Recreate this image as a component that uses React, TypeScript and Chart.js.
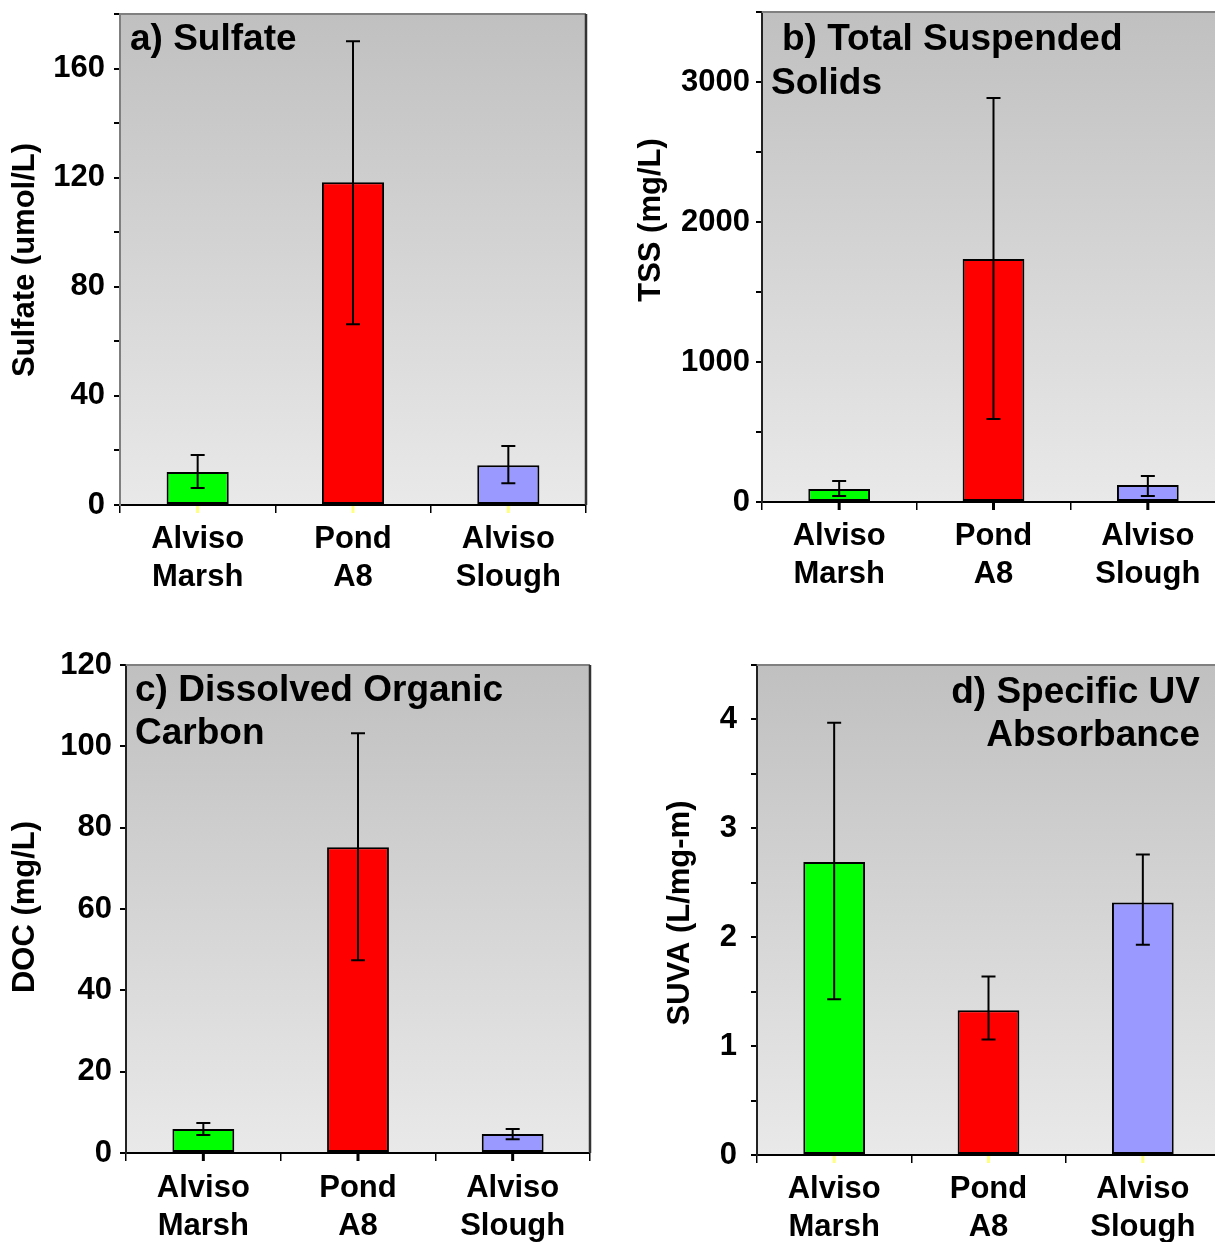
import React, { useEffect, useRef } from 'react';
import { Chart, registerables } from 'chart.js';

Chart.register(...registerables);

const FONT = '"Liberation Sans", Arial, Helvetica, sans-serif';

// ---------- data ----------
const categories = [['Alviso', 'Marsh'], ['Pond', 'A8'], ['Alviso', 'Slough']];
const barColors = ['#00ff00', '#ff0000', '#9999ff'];

// a) Sulfate (umol/L)
const sulfateMean = [12.1, 118.3, 14.6];
const sulfateLow = [6.2, 66.3, 8.0];
const sulfateHigh = [18.3, 170.0, 21.6];
const sulfateTicks = [0, 40, 80, 120, 160];

// b) Total Suspended Solids (mg/L)
const tssMean = [93, 1736, 121];
const tssLow = [43, 593, 43];
const tssHigh = [150, 2886, 186];
const tssTicks = [0, 1000, 2000, 3000];

// c) Dissolved Organic Carbon (mg/L)
const docMean = [5.9, 75.2, 4.7];
const docLow = [4.4, 47.4, 3.4];
const docHigh = [7.4, 103.2, 5.9];
const docTicks = [0, 20, 40, 60, 80, 100, 120];

// d) Specific UV Absorbance (L/mg-m)
const suvaMean = [2.69, 1.33, 2.32];
const suvaLow = [1.43, 1.06, 1.93];
const suvaHigh = [3.97, 1.64, 2.76];
const suvaTicks = [0, 1, 2, 3, 4];

// ---------- panel layout ----------
type PanelCfg = {
  left: number; top: number; width: number; height: number;
  area: { left: number; top: number; right: number; bottom: number };
  values: number[]; low: number[]; high: number[];
  yMax: number; yStep: number; tickLabels: number[];
  yTitle: string; yTitlePos: { x: number; y: number };
  titleLines: { text: string; x: number; y: number; align: CanvasTextAlign }[];
  yTickPad: number; xTickPad: number;
  yBorderColor: string; centerTickColor: string;
};

const panels: PanelCfg[] = [
  {
    left: 0, top: 0, width: 600, height: 620,
    area: { left: 120, top: 14, right: 586, bottom: 505 },
    values: sulfateMean, low: sulfateLow, high: sulfateHigh,
    yMax: 180, yStep: 20, tickLabels: sulfateTicks,
    yTitle: 'Sulfate (umol/L)', yTitlePos: { x: 25, y: 260 },
    titleLines: [{ text: 'a) Sulfate', x: 130, y: 50, align: 'left' }],
    yTickPad: 9, xTickPad: 7, yBorderColor: '#7f7f7f', centerTickColor: '#ffff80',
  },
  {
    left: 620, top: 0, width: 620, height: 620,
    area: { left: 142, top: 12, right: 605, bottom: 502 },
    values: tssMean, low: tssLow, high: tssHigh,
    yMax: 3500, yStep: 500, tickLabels: tssTicks,
    yTitle: 'TSS (mg/L)', yTitlePos: { x: 31, y: 220 },
    titleLines: [
      { text: 'b) Total Suspended', x: 162, y: 50, align: 'left' },
      { text: 'Solids', x: 151, y: 94, align: 'left' },
    ],
    yTickPad: 6, xTickPad: 7, yBorderColor: '#222', centerTickColor: '#000',
  },
  {
    left: 0, top: 640, width: 600, height: 602,
    area: { left: 126, top: 25, right: 590, bottom: 513 },
    values: docMean, low: docLow, high: docHigh,
    yMax: 120, yStep: 20, tickLabels: docTicks,
    yTitle: 'DOC (mg/L)', yTitlePos: { x: 25, y: 267 },
    titleLines: [
      { text: 'c) Dissolved Organic', x: 135, y: 61, align: 'left' },
      { text: 'Carbon', x: 135, y: 104, align: 'left' },
    ],
    yTickPad: 8, xTickPad: 8, yBorderColor: '#222', centerTickColor: '#000',
  },
  {
    left: 620, top: 640, width: 620, height: 602,
    area: { left: 137, top: 25, right: 600, bottom: 515 },
    values: suvaMean, low: suvaLow, high: suvaHigh,
    yMax: 4.5, yStep: 0.5, tickLabels: suvaTicks,
    yTitle: 'SUVA (L/mg-m)', yTitlePos: { x: 60, y: 273 },
    titleLines: [
      { text: 'd) Specific UV', x: 580, y: 63, align: 'right' },
      { text: 'Absorbance', x: 580, y: 106, align: 'right' },
    ],
    yTickPad: 14, xTickPad: 7, yBorderColor: '#222', centerTickColor: '#ffff80',
  },
];

// ---------- plugins ----------
const decoPlugin = {
  id: 'deco',
  beforeDraw(chart: any) {
    const { ctx, chartArea: a } = chart;
    ctx.save();
    const g = ctx.createLinearGradient(0, a.top, 0, a.bottom);
    g.addColorStop(0, '#c0c0c0');
    g.addColorStop(1, '#e9e9e9');
    ctx.fillStyle = g;
    ctx.fillRect(a.left, a.top, a.right - a.left, a.bottom - a.top);
    ctx.restore();
  },
  afterDraw(chart: any, _args: any, o: any) {
    const { ctx, chartArea: a } = chart;
    const meta = chart.getDatasetMeta(0);
    const y = chart.scales.y;
    ctx.save();
    // frame: top and right
    ctx.lineWidth = 2;
    ctx.strokeStyle = '#808080';
    ctx.beginPath();
    ctx.moveTo(a.left, a.top);
    ctx.lineTo(a.right, a.top);
    ctx.stroke();
    ctx.strokeStyle = '#333';
    ctx.lineWidth = 2.5;
    ctx.beginPath();
    ctx.moveTo(a.right, a.top);
    ctx.lineTo(a.right, a.bottom);
    ctx.stroke();
    // center tick marks below the axis
    ctx.strokeStyle = o.centerTickColor;
    ctx.lineWidth = 3;
    meta.data.forEach((bar: any) => {
      ctx.beginPath();
      ctx.moveTo(bar.x, a.bottom + 1);
      ctx.lineTo(bar.x, a.bottom + 8);
      ctx.stroke();
    });
    // error bars
    ctx.strokeStyle = '#000';
    ctx.lineWidth = 2;
    const cap = 7;
    meta.data.forEach((bar: any, i: number) => {
      const yl = y.getPixelForValue(o.low[i]);
      const yh = y.getPixelForValue(o.high[i]);
      ctx.beginPath();
      ctx.moveTo(bar.x, yl);
      ctx.lineTo(bar.x, yh);
      ctx.moveTo(bar.x - cap, yl);
      ctx.lineTo(bar.x + cap, yl);
      ctx.moveTo(bar.x - cap, yh);
      ctx.lineTo(bar.x + cap, yh);
      ctx.stroke();
    });
    // panel titles
    ctx.fillStyle = '#000';
    ctx.font = `bold 37px ${FONT}`;
    ctx.textBaseline = 'alphabetic';
    o.titleLines.forEach((t: any) => {
      ctx.textAlign = t.align;
      ctx.fillText(t.text, t.x, t.y);
    });
    // y axis title
    ctx.font = `bold 31px ${FONT}`;
    ctx.textAlign = 'center';
    ctx.textBaseline = 'middle';
    ctx.translate(o.yTitlePos.x, o.yTitlePos.y);
    ctx.rotate(-Math.PI / 2);
    ctx.fillText(o.yTitle, 0, 0);
    ctx.restore();
  },
};

function zeroPad(s: any) {
  s.paddingTop = 0;
  s.paddingBottom = 0;
  s.paddingLeft = 0;
  s.paddingRight = 0;
}

function buildConfig(p: PanelCfg): any {
  return {
    type: 'bar',
    data: {
      labels: categories,
      datasets: [
        {
          data: p.values,
          backgroundColor: barColors,
          borderColor: '#000',
          borderWidth: 2,
          borderSkipped: false,
          categoryPercentage: 1,
          barPercentage: 0.4,
        },
      ],
    },
    plugins: [decoPlugin],
    options: {
      responsive: false,
      maintainAspectRatio: false,
      animation: false,
      devicePixelRatio: 1,
      layout: { padding: { left: 0, top: p.area.top, right: p.width - p.area.right, bottom: 0 } },
      plugins: {
        legend: { display: false },
        tooltip: { enabled: false },
        title: { display: false },
        deco: {
          low: p.low, high: p.high, titleLines: p.titleLines,
          yTitle: p.yTitle, yTitlePos: p.yTitlePos, centerTickColor: p.centerTickColor,
        },
      },
      scales: {
        x: {
          type: 'category',
          offset: true,
          grid: {
            display: true, drawOnChartArea: false, drawTicks: true,
            tickLength: 8, color: '#000', lineWidth: 1.5, offset: true,
          },
          border: { display: true, color: '#000', width: 2 },
          ticks: {
            color: '#000', autoSkip: false, maxRotation: 0, minRotation: 0,
            padding: p.xTickPad,
            font: { family: FONT, size: 31, weight: 'bold', lineHeight: 1.24 },
          },
          afterFit: (s: any) => { s.height = p.height - p.area.bottom; zeroPad(s); },
        },
        y: {
          min: 0,
          max: p.yMax,
          grid: {
            display: true, drawOnChartArea: false, drawTicks: true,
            tickLength: 6, color: '#000', lineWidth: 2,
          },
          border: { display: true, color: p.yBorderColor, width: 2 },
          ticks: {
            stepSize: p.yStep, autoSkip: false, color: '#000', padding: p.yTickPad,
            font: { family: FONT, size: 31, weight: 'bold' },
            callback: (v: any) => (p.tickLabels.includes(Number(v)) ? String(v) : ''),
          },
          afterFit: (s: any) => { s.width = p.area.left; zeroPad(s); },
        },
      },
    },
  };
}

function Panel({ p }: { p: PanelCfg }) {
  const ref = useRef<HTMLCanvasElement>(null);
  useEffect(() => {
    const chart = new Chart(ref.current as HTMLCanvasElement, buildConfig(p));
    return () => chart.destroy();
  }, [p]);
  return (
    <canvas
      ref={ref}
      width={p.width}
      height={p.height}
      style={{ position: 'absolute', left: p.left, top: p.top, width: p.width, height: p.height }}
    />
  );
}

export default function App() {
  return (
    <div
      style={{
        position: 'fixed', left: 0, top: 0, width: 1215, height: 1242,
        overflow: 'hidden', background: '#fff',
      }}
    >
      {panels.map((p, i) => (
        <Panel key={i} p={p} />
      ))}
    </div>
  );
}
